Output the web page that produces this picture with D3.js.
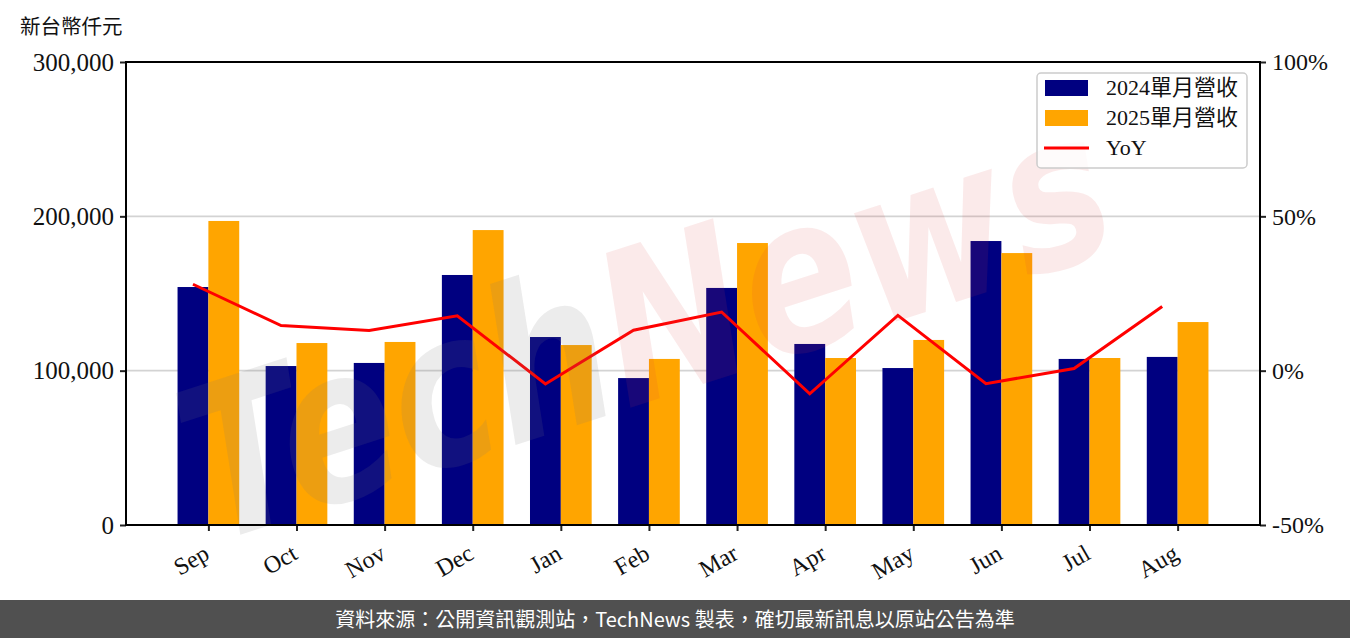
<!DOCTYPE html>
<html><head><meta charset="utf-8">
<script src="https://cdn.jsdelivr.net/npm/d3@7"></script>
<style>
html,body{margin:0;padding:0;background:#fff;}
svg{display:block;}
</style></head>
<body>
<svg id="chart" width="1350" height="638"></svg>
<script>
const months = ["Sep","Oct","Nov","Dec","Jan","Feb","Mar","Apr","May","Jun","Jul","Aug"];
const rev2024 = [154200,103000,105000,162000,121800,95200,153600,117300,101700,184000,107600,108900];
const rev2025 = [197000,117900,118600,191100,116600,107600,182700,108200,119900,176200,108200,131500];
const yoy = [28.0,14.6,13.0,17.8,-4.3,13.1,19.0,-7.5,17.9,-4.2,0.7,20.8];
const leftTicks = [0,100000,200000,300000];
const rightTicks = [-50,0,50,100];
const seriesNames = ["2024單月營收","2025單月營收","YoY"];
const colors = ["#000080","#FFA500","#FF0000"];

const svg = d3.select("#chart");
const L=126,R=1260,T=62,B=525;
const bw = 0.35;
const x = d3.scaleLinear().domain([-0.935, months.length-1+0.935]).range([L,R]);
const y = d3.scaleLinear().domain([0,300000]).range([B,T]);
const y2 = d3.scaleLinear().domain([-50,100]).range([B,T]);
const serif = "'Liberation Serif','DejaVu Serif',serif";
const cjk = "'Noto Sans CJK TC','Noto Sans CJK SC',sans-serif";

// gridlines
svg.append("g").selectAll("line").data([100000,200000]).join("line")
  .attr("x1",L).attr("x2",R).attr("y1",d=>y(d)).attr("y2",d=>y(d))
  .attr("stroke","#d3d3d3").attr("stroke-width",1.6);

// bars
svg.append("g").selectAll("rect").data(rev2024).join("rect")
  .attr("x",(d,i)=>x(i-bw)).attr("width",(d,i)=>x(i)-x(i-bw))
  .attr("y",d=>y(d)).attr("height",d=>B-y(d)).attr("fill",colors[0]);
svg.append("g").selectAll("rect").data(rev2025).join("rect")
  .attr("x",(d,i)=>x(i)).attr("width",(d,i)=>x(i+bw)-x(i))
  .attr("y",d=>y(d)).attr("height",d=>B-y(d)).attr("fill",colors[1]);

// yoy line
const line = d3.line().x((d,i)=>x(i-bw/2)).y(d=>y2(d));
svg.append("path").datum(yoy).attr("d",line).attr("fill","none")
  .attr("stroke",colors[2]).attr("stroke-width",3);

// watermark
const wm = svg.append("g").attr("transform","translate(645,325) rotate(-18)")
  .attr("pointer-events","none");
const wt = wm.append("text").attr("text-anchor","middle")
  .attr("font-family","'DejaVu Sans',sans-serif").attr("font-weight","bold").attr("font-style","italic")
  .attr("font-size",212).attr("textLength",960).attr("lengthAdjust","spacingAndGlyphs")
  .attr("dy","0.35em");
wt.append("tspan").text("Tech").attr("fill","rgba(120,120,120,0.14)");
wt.append("tspan").text("News").attr("fill","rgba(220,60,60,0.11)");

// axes
const ax = d3.axisBottom(x).tickValues(d3.range(months.length)).tickFormat(i=>months[i]).tickSizeOuter(0).tickSize(6);
const gx = svg.append("g").attr("transform",`translate(0,${B})`).call(ax);
gx.select(".domain").remove();
gx.selectAll(".tick line").attr("stroke","#222").attr("stroke-width",2);
gx.selectAll(".tick text").attr("font-family",serif).attr("font-size",24).attr("fill","#111")
  .attr("text-anchor","end").attr("dy",0).attr("y",0)
  .attr("transform","translate(2,33) rotate(-30)");

const ayl = d3.axisLeft(y).tickValues(leftTicks).tickFormat(d3.format(",")).tickSize(6).tickSizeOuter(0);
const gy = svg.append("g").attr("transform",`translate(${L},0)`).call(ayl);
gy.select(".domain").remove();
gy.selectAll(".tick line").attr("stroke","#222").attr("stroke-width",2);
gy.selectAll(".tick text").attr("font-family",serif).attr("font-size",25).attr("fill","#111").attr("x",-12);

const ayr = d3.axisRight(y2).tickValues(rightTicks).tickFormat(d=>d+"%").tickSize(6).tickSizeOuter(0);
const gy2 = svg.append("g").attr("transform",`translate(${R},0)`).call(ayr);
gy2.select(".domain").remove();
gy2.selectAll(".tick line").attr("stroke","#222").attr("stroke-width",2);
gy2.selectAll(".tick text").attr("font-family",serif).attr("font-size",24).attr("fill","#111").attr("x",12);

// frame
svg.append("rect").attr("x",L).attr("y",T).attr("width",R-L).attr("height",B-T)
  .attr("fill","none").attr("stroke","#000").attr("stroke-width",2);

// unit label
svg.append("text").attr("x",20).attr("y",34).text("新台幣仟元")
  .attr("font-family",cjk).attr("font-size",20.5).attr("fill","#111");

// legend
const lg = svg.append("g");
lg.append("rect").attr("x",1037).attr("y",73).attr("width",210).attr("height",95).attr("rx",4)
  .attr("fill","rgba(255,255,255,0.8)").attr("stroke","#ccc").attr("stroke-width",1.5);
seriesNames.forEach((n,i)=>{
  const cy = 88 + i*30;
  if(i<2) lg.append("rect").attr("x",1045).attr("y",cy-8).attr("width",43).attr("height",16).attr("fill",colors[i]);
  else lg.append("line").attr("x1",1044).attr("x2",1089).attr("y1",cy).attr("y2",cy).attr("stroke",colors[i]).attr("stroke-width",3);
  lg.append("text").attr("x",1106).attr("y",cy+7).text(n)
    .attr("font-family",serif+","+cjk).attr("font-size",22).attr("fill","#111");
});

// footer
svg.append("rect").attr("x",0).attr("y",600).attr("width",1350).attr("height",38).attr("fill","#505050");
svg.append("text").attr("x",675).attr("y",627).attr("text-anchor","middle")
  .text("資料來源：公開資訊觀測站，TechNews 製表，確切最新訊息以原站公告為準")
  .attr("font-family",cjk).attr("font-size",20).attr("fill","#fff");
</script>
</body></html>
